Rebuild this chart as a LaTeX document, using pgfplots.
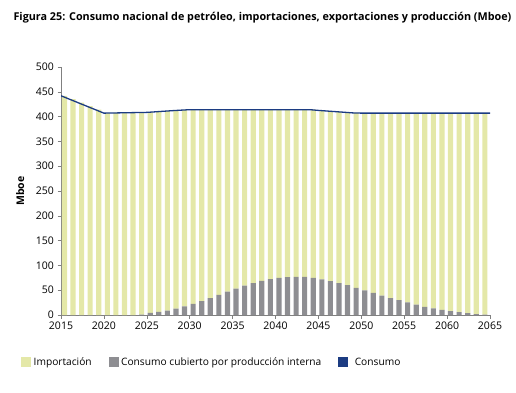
\documentclass[border=0pt]{standalone}
\usepackage{pgfplots}
\pgfplotsset{compat=1.18}
\usepackage{pgfplotstable}
\usepackage{fontspec}
\setmainfont{Open Sans}
\definecolor{impcol}{RGB}{228,232,168}
\definecolor{prodcol}{RGB}{142,142,146}
\definecolor{conscol}{RGB}{28,60,130}
\definecolor{axcol}{RGB}{128,128,128}

\pgfplotstableread{
year imp prod
2015 442 0
2016 435 0
2017 428 0
2018 421 0
2019 414 0
2020 407 0
2021 407.5 0
2022 408 0
2023 408 0
2024 407.5 1
2025 404.5 4.5
2026 403.5 6.5
2027 402 9
2028 399 13
2029 395.5 17.5
2030 391.5 22.5
2031 386 28
2032 380 34
2033 373.5 40.5
2034 367 47
2035 361 53
2036 355 59
2037 349.5 64.5
2038 345 69
2039 341.5 72.5
2040 339 75
2041 337.5 76.5
2042 337 77
2043 337 77
2044 339 75
2045 340.5 72
2046 342.5 68.5
2047 345 64.5
2048 348 60
2049 353 54.5
2050 357.5 49.5
2051 362.5 44.5
2052 368 39
2053 373 34
2054 377 30
2055 381.5 25.5
2056 386 21
2057 390.5 16.5
2058 393.5 13.5
2059 396.5 10.5
2060 399 8
2061 401 6
2062 403 4
2063 405 2
2064 406 1
}\bars

\pgfplotstableread{
year cons
2015 442
2020 407
2025 408.5
2028 412
2030 414
2044 414
2045 412.5
2049 407.5
2050 407
2065 407
}\consumo

\begin{document}
\begin{tikzpicture}
\path[use as bounding box] (-61pt,-77pt) rectangle (455pt,315pt);
\node[anchor=west, font=\fontsize{10.8}{13}\selectfont\bfseries] at (-51pt,297pt)
  {Figura 25: Consumo nacional de petróleo, importaciones, exportaciones y producción (Mboe)};
\begin{axis}[
  at={(0pt,0pt)}, anchor=south west,
  scale only axis, width=429pt, height=248pt,
  xmin=2015, xmax=2065, ymin=0, ymax=500,
  ybar stacked, bar width=0.6,
  xtick={2015,2020,...,2065}, ytick={0,50,...,500},
  axis x line*=bottom, axis y line*=left,
  axis line style={axcol, -},
  tick align=outside, major tick length=3.5pt,
  tick style={axcol, thin},
  xticklabel style={/pgf/number format/1000 sep={}},
  /pgf/number format/assume math mode=true,
  ticklabel style={font=\fontsize{10.5}{12}\selectfont},
  ylabel={Mboe},
  ylabel style={font=\fontsize{10.5}{12}\selectfont\bfseries, at={(axis description cs:-0.095,0.5)}, anchor=center},
  legend style={at={(axis description cs:-0.1,-0.19)}, anchor=west, draw=none, fill=none,
    font=\fontsize{10.2}{12}\selectfont, legend columns=-1,
    /tikz/every odd column/.style={column sep=1pt},
    /tikz/every even column/.style={column sep=15pt}},
  legend cell align=left,
]
\addplot[fill=prodcol, draw=none, forget plot]
  table[x expr=\thisrow{year}+0.4, y=prod] {\bars};
\addplot[fill=impcol, draw=none, forget plot]
  table[x expr=\thisrow{year}+0.4, y=imp] {\bars};
\addlegendimage{legend image code/.code={\fill[impcol] (0pt,-4.5pt) rectangle (9pt,4.5pt);}}
\addlegendentry{Importación}
\addlegendimage{legend image code/.code={\fill[prodcol] (0pt,-4.5pt) rectangle (9pt,4.5pt);}}
\addlegendentry{Consumo cubierto por producción interna}
\addlegendimage{legend image code/.code={\fill[conscol] (0pt,-4.5pt) rectangle (9pt,4.5pt);}}
\addlegendentry{\hspace{4pt}Consumo}
\end{axis}
\begin{axis}[
  at={(0pt,0pt)}, anchor=south west,
  scale only axis, width=429pt, height=248pt,
  xmin=2015, xmax=2065, ymin=0, ymax=500,
  hide axis,
]
\addplot[conscol, line width=1.3pt, mark=none] table[x=year, y=cons] {\consumo};
\end{axis}
\end{tikzpicture}
\end{document}
